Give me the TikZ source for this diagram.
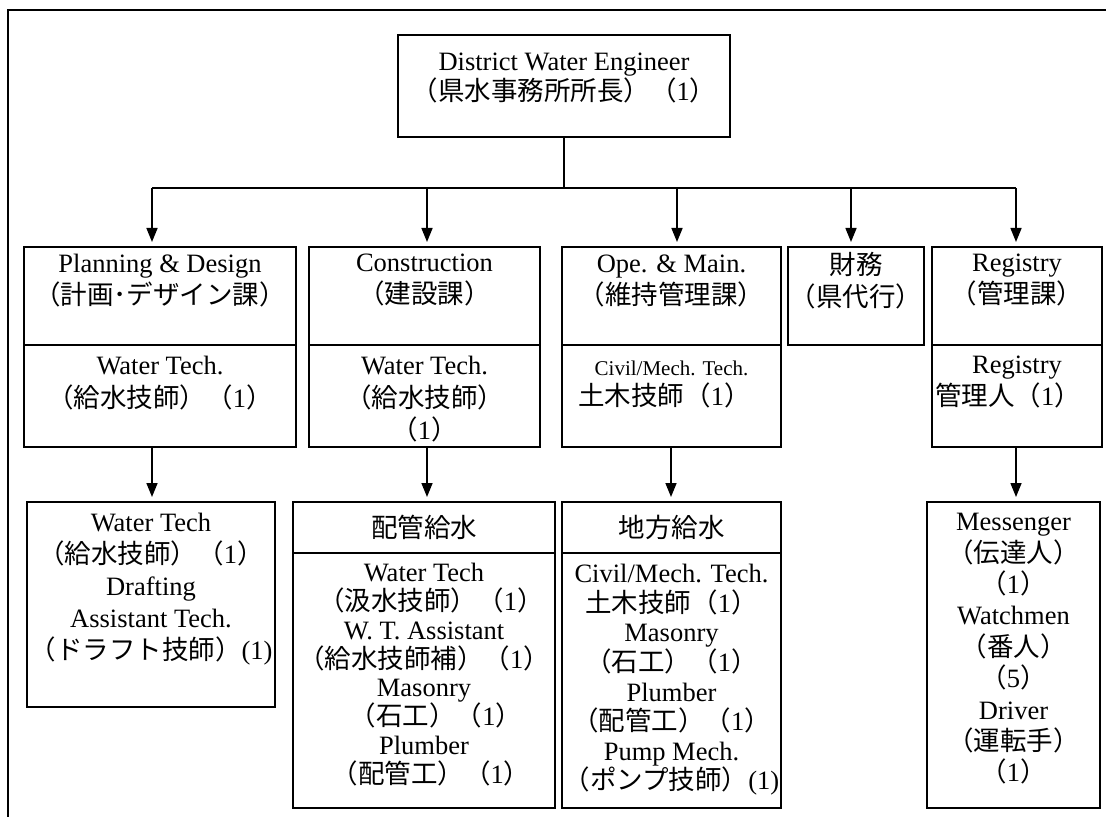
\documentclass[tikz,border=0pt]{standalone}
\usepackage{fontspec}
\setmainfont{Liberation Serif}
\newfontfamily\jpfont{Noto Sans CJK JP}
\newcommand{\J}[1]{{\jpfont #1}}
\usetikzlibrary{arrows.meta,fit}

\begin{document}
\begin{tikzpicture}[x=0.5pt,y=-0.5pt,
  box/.style={draw, line width=0.9pt, inner sep=0pt, outer sep=0pt},
  txt/.style={align=center, inner sep=0pt, anchor=north},
  fs/.style={font=\fontsize{13.25}{#1}\selectfont},
  link/.style={line width=0.8pt},
  arr/.style={line width=0.8pt, -{Triangle[length=7pt,width=5.5pt]}, shorten >=2.5pt},
]
\useasboundingbox (0,0) rectangle (1106,817);

% page frame
\draw[line width=1pt] (8,817) -- (8,10) -- (1106,10);

% ---- head of the office
\node[box, fit={(398,35) (730,137)}] (dwe) {};
\node[txt, fs=15pt, yshift=-9pt] (dwe-t) at (dwe.north)
  {District Water Engineer\\ \J{（県水事務所所長）（}1\J{）}};

% ---- sections
\node[box, fit={(24,247) (296,345)}] (pd-h) {};
\node[box, fit={(24,345) (296,447)}] (pd-b) {};
\node[box, fit={(309,247) (540,345)}] (con-h) {};
\node[box, fit={(309,345) (540,447)}] (con-b) {};
\node[box, fit={(562,247) (781,345)}] (ope-h) {};
\node[box, fit={(562,345) (781,447)}] (ope-b) {};
\node[box, fit={(788,247) (924,345)}] (fin) {};
\node[box, fit={(932,247) (1102,345)}] (reg-h) {};
\node[box, fit={(932,345) (1102,447)}] (reg-b) {};

\node[txt, fs=16pt, yshift=-3.5pt] (pd-ht) at (pd-h.north)
  {Planning \& Design\\ \J{（計画･デザイン課）}};
\node[txt, fs=16.5pt, yshift=-5.5pt] (pd-bt) at (pd-b.north)
  {Water Tech.\\ \J{（給水技師）（}1\J{）}};
\node[txt, fs=16pt, yshift=-3.5pt] (con-ht) at (con-h.north)
  {Construction\\ \J{（建設課）}};
\node[txt, fs=16.2pt, yshift=-5.5pt] (con-bt) at (con-b.north)
  {Water Tech.\\ \J{（給水技師）}\\ \J{（}1\J{）}};
\node[txt, fs=16pt, yshift=-3.5pt] (ope-ht) at (ope-h.north)
  {Ope. \& Main.\\ \J{（維持管理課）}};
\node[txt, fs=15pt, yshift=-8pt] (ope-bt) at (ope-b.north)
  {{\fontsize{10.5}{12}\selectfont Civil/Mech. Tech.}\\ \J{土木技師（}1\J{）}\hspace*{7pt}};
\node[txt, fs=16pt, yshift=-2.5pt] (fin-t) at (fin.north)
  {\J{財務}\\ \J{（県代行）}};
\node[txt, fs=16pt, yshift=-3.5pt] (reg-ht) at (reg-h.north)
  {Registry\\ \J{（管理課）}};
\node[txt, fs=16pt, yshift=-5.5pt] (reg-bt) at (reg-b.north)
  {Registry\\ \J{管理人（}1\J{）}\hspace*{9pt}};

% ---- staff units
\node[box, fit={(27,502) (275,707)}] (wt) {};
\node[box, fit={(293,502) (555,553)}] (pip-h) {};
\node[box, fit={(293,553) (555,808)}] (pip-b) {};
\node[box, fit={(562,502) (781,553)}] (loc-h) {};
\node[box, fit={(562,553) (781,808)}] (loc-b) {};
\node[box, fit={(927,502) (1100,808)}] (msg) {};

\node[txt, fs=16pt, yshift=-5.5pt] (wt-t) at (wt.north)
  {Water Tech\\ \J{（給水技師）（}1\J{）}\\ Drafting\\ Assistant Tech.\\
   \J{（ドラフト技師）}(1)};
\node[txt, fs=16pt, anchor=center] (pip-ht) at (pip-h.center) {\J{配管給水}};
\node[txt, fs=14.4pt, yshift=-5pt] (pip-bt) at (pip-b.north)
  {Water Tech\\ \hspace*{7pt}\J{（汲水技師）（}1\J{）}\\ W. T. Assistant\\
   \J{（給水技師補）（}1\J{）}\\ Masonry\\ \hspace*{12pt}\J{（石工）（}1\J{）}\\
   Plumber\\ \hspace*{7pt}\J{（配管工）（}1\J{）}};
\node[txt, fs=16pt, anchor=center] (loc-ht) at (loc-h.center) {\J{地方給水}};
\node[txt, fs=14.8pt, yshift=-5.5pt] (loc-bt) at (loc-b.north)
  {Civil/Mech. Tech.\\ \J{土木技師（}1\J{）}\hspace*{7pt}\\ Masonry\\
   \J{（石工）（}1\J{）}\hspace*{13pt}\\ Plumber\\ \J{（配管工）（}1\J{）}\\
   Pump Mech.\\ \J{（ポンプ技師）}(1)};
\node[txt, fs=15.7pt, yshift=-5.5pt] (msg-t) at (msg.north)
  {Messenger\\ \J{（伝達人）}\\ \J{（}1\J{）}\\ Watchmen\\ \J{（番人）}\\
   \J{（}5\J{）}\\ Driver\\ \J{（運転手）}\\ \J{（}1\J{）}};

% ---- connectors
\coordinate (bus) at (564,188);
\coordinate (b1) at (152,188);
\coordinate (b2) at (427,188);
\coordinate (b3) at (677,188);
\coordinate (b4) at (851,188);
\coordinate (b5) at (1016,188);
\draw[link] (dwe.south) -- (bus);
\draw[link] (b1) -- (b5);
\draw[arr] (b1) -- (pd-h.north -| b1);
\draw[arr] (b2) -- (con-h.north -| b2);
\draw[arr] (b3) -- (ope-h.north -| b3);
\draw[arr] (b4) -- (fin.north -| b4);
\draw[arr] (b5) -- (reg-h.north -| b5);

\coordinate (c1) at (152,0);
\coordinate (c2) at (427,0);
\coordinate (c3) at (671,0);
\coordinate (c4) at (1016,0);
\draw[arr] (pd-b.south -| c1) -- (wt.north -| c1);
\draw[arr] (con-b.south -| c2) -- (pip-h.north -| c2);
\draw[arr] (ope-b.south -| c3) -- (loc-h.north -| c3);
\draw[arr] (reg-b.south -| c4) -- (msg.north -| c4);
\end{tikzpicture}
\end{document}
